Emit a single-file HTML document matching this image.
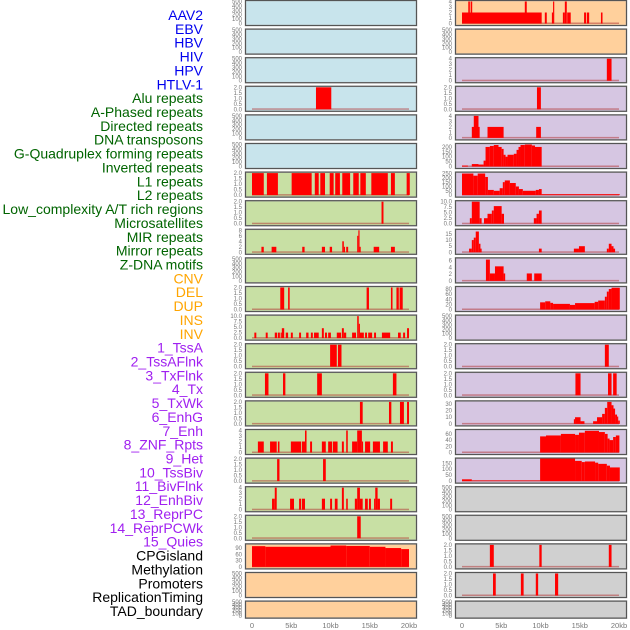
<!DOCTYPE html>
<html><head><meta charset="utf-8"><style>
body{margin:0;background:#fff;width:630px;height:630px;overflow:hidden}
svg{display:block}
.lab{font-family:"Liberation Sans",sans-serif;font-size:14px}
.tk{font-family:"Liberation Sans",sans-serif;font-size:6px;fill:#777}
.xt{font-family:"Liberation Sans",sans-serif;font-size:7.5px;fill:#777}
</style></head><body>
<svg id="c" width="630" height="630" xmlns="http://www.w3.org/2000/svg"></svg>
<script>
// ---- track labels ----
const trackLabels=["AAV2","EBV","HBV","HIV","HPV","HTLV-1","Alu repeats","A-Phased repeats","Directed repeats","DNA transposons","G-Quadruplex forming repeats","Inverted repeats","L1 repeats","L2 repeats","Low_complexity A/T rich regions","Microsatellites","MIR repeats","Mirror repeats","Z-DNA motifs","CNV","DEL","DUP","INS","INV","1_TssA","2_TssAFlnk","3_TxFlnk","4_Tx","5_TxWk","6_EnhG","7_Enh","8_ZNF_Rpts","9_Het","10_TssBiv","11_BivFlnk","12_EnhBiv","13_ReprPC","14_ReprPCWk","15_Quies","CPGisland","Methylation","Promoters","ReplicationTiming","TAD_boundary"];
const labelGroups=[6,13,5,15,5];
const groupColors=["#0000ee","#006400","#ffa500","#a020f0","#000000"];
// ---- x axis ticks (kb) ----
const xTicks=[0,5,10,15,20];
const xTickLabels=["0","5kb","10kb","15kb","20kb"];
// ---- panel data: [startKb,endKb,value] ----
const L03=[[8.15,10.1,2]];
const L06=[[0,1.5,2],[1.9,3.3,2],[5.05,7.6,2],[8.0,8.5,2],[8.7,9.3,2],[9.9,10.4,2],[10.6,11.2,2],[11.5,12.5,2],[12.9,13.6,2],[13.8,14.5,2],[15.2,17.3,2],[17.7,18.2,2],[19.7,20.1,2]];
const L07=[[16.5,16.75,2]];
const L08=[[1.2,1.5,2],[2.5,3.1,2],[6.4,6.7,2],[8.9,9.3,2],[9.9,10.2,2],[11.5,11.7,4],[11.7,11.85,2],[12.0,12.25,2],[13.4,13.55,6],[13.55,13.7,8],[13.7,13.85,2],[15.5,16.2,2],[17.7,18.2,2]];
const L10=[[3.6,4.1,2],[4.6,4.8,2],[14.6,14.9,2],[17.7,17.9,2],[18.4,18.7,2],[18.8,19.2,2]];
const L11=[[0.3,0.55,2.5],[1.75,2.0,2.5],[2.9,3.2,2.5],[3.3,3.55,2.5],[3.65,3.8,2.5],[3.8,4.1,4.5],[4.3,4.6,2.5],[4.95,5.2,2.5],[6.0,6.25,2.5],[6.9,7.2,2.5],[7.5,7.75,2.5],[7.9,8.5,2.5],[8.9,9.15,4.5],[9.3,9.55,2.5],[9.7,10.05,2.5],[10.8,11.35,2.5],[11.45,11.7,4.5],[11.7,12.0,2.5],[12.75,13.25,2.5],[13.4,13.6,10],[13.6,13.75,6.5],[13.75,14.25,2.5],[14.4,14.65,2.5],[14.8,15.3,2.5],[15.55,15.8,2.5],[16.55,17.6,2.5],[18.6,18.95,2.5],[19.25,19.5,2.5],[19.75,20.0,4.5]];
const L12=[[9.95,10.8,2],[10.95,11.4,2]];
const L13=[[1.65,2.1,2],[3.95,4.25,2],[8.3,8.9,2],[17.95,18.4,2]];
const L14=[[13.75,14.1,2],[17.45,17.75,2],[18.85,19.35,2],[19.75,20.0,2]];
const L15=[[0.75,1.5,2],[2.3,3.15,2],[3.3,3.5,2],[4.95,6.25,2],[6.35,6.75,2],[6.75,6.95,4],[7.4,7.65,2],[8.9,9.4,2],[9.7,10.2,2],[10.3,10.9,2],[11.45,11.7,2],[12.0,12.2,4],[12.75,13.4,2],[13.4,14.0,4],[14.0,14.15,2],[14.4,15.05,2],[15.4,16.3,2],[16.7,17.3,2],[17.7,17.95,2]];
const L16=[[3.2,3.5,2],[9.05,9.4,2]];
const L17=[[2.55,2.9,2],[2.9,3.15,4],[4.85,5.35,2],[6.0,6.25,2],[6.35,6.75,2],[8.9,9.3,2],[9.95,10.2,2],[10.55,10.9,2],[11.45,11.7,4],[12.0,12.2,2],[13.1,13.4,2],[13.4,13.75,4],[13.75,14.1,2],[14.4,14.75,2],[14.9,15.15,2],[15.55,15.7,2],[15.7,16.0,4],[16.0,16.3,2],[17.6,17.85,2]];
const L18=[[13.4,13.85,2]];
const L19=[[0,1.7,99],[1.7,10,96],[10,12,102],[12,15,100],[15,17,96],[17,19,90],[19,20,85]];
const R00=[[0,10.15,2],[0.8,1.0,4],[1.1,1.3,4],[8.0,8.25,4],[10.55,10.8,2],[11.45,11.6,2],[11.6,11.75,4],[12.85,13.1,2],[13.1,13.35,4],[13.4,13.85,2],[15.55,15.8,2],[15.9,16.2,2],[17.7,17.9,2]];
const R02=[[18.45,19.05,4]];
const R03=[[9.55,10.05,2]];
const R04=[[1.25,2.25,2],[1.5,2.1,4],[3.25,5.3,2],[9.45,10.05,2]];
const R05=[[0,0.75,10],[1.25,2.1,25],[2.1,2.75,20],[2.75,3.0,60],[3.0,3.55,200],[3.55,4.05,210],[4.05,4.65,220],[4.65,5.05,200],[5.05,5.3,180],[5.3,5.55,120],[5.55,5.8,100],[5.8,6.6,120],[6.6,6.95,130],[6.95,7.2,170],[7.2,7.45,200],[7.45,8.0,220],[8.0,8.9,225],[8.9,9.3,215],[9.3,10.15,200]];
const R06=[[0,1.45,250],[1.45,2.0,225],[2.0,2.95,250],[2.95,3.3,210],[3.3,4.05,60],[4.05,4.8,50],[4.8,5.2,80],[5.2,5.45,150],[5.45,6.1,170],[6.1,6.85,140],[6.85,7.25,100],[7.25,7.75,70],[7.75,9.4,50],[9.4,9.8,60],[9.8,10.15,70],[10.15,20.1,10]];
const R07=[[1.0,1.25,2.5],[1.25,2.25,10],[2.25,2.5,2.5],[2.8,3.25,2.5],[3.25,3.8,4.5],[3.8,4.05,6],[4.05,5.05,8],[5.05,5.35,4.5],[9.15,9.5,2.5],[9.5,9.8,4.5],[9.8,10.15,6]];
const R08=[[0.9,1.25,3],[1.25,1.5,10],[1.5,1.75,12],[1.75,2.15,17],[2.15,2.35,7],[2.35,2.5,3],[9.8,10.15,3],[14.25,14.9,3],[14.9,15.65,5],[18.45,18.7,3],[18.7,19.05,7],[19.05,19.3,5],[19.3,19.5,3]];
const R09=[[3.05,3.55,6.3],[3.55,4.2,2.2],[4.2,5.3,4.3],[5.3,5.5,2.2],[8.25,8.9,2.2],[9.2,10.15,2.2]];
const R10=[[9.95,10.6,28],[10.6,11.25,32],[11.25,11.6,26],[11.6,13.75,22],[13.75,14.4,18],[14.4,16.9,25],[16.9,17.35,30],[17.35,18.2,35],[18.2,18.45,50],[18.45,18.7,70],[18.7,19.05,80],[19.05,20.1,85]];
const R12=[[18.2,18.7,2]];
const R13=[[14.45,15.1,2],[18.6,19.05,2],[19.25,19.7,2]];
const R14=[[14.25,14.4,7],[14.4,15.1,10],[15.1,15.6,4],[16.7,17.2,4],[17.2,17.85,10],[17.85,18.2,15],[18.2,18.5,24],[18.5,19.05,33],[19.05,19.3,28],[19.3,19.5,23],[19.5,19.75,14],[19.75,19.9,11],[19.9,20.1,5]];
const R15=[[9.95,10.7,52],[10.7,12.6,55],[12.6,14.4,60],[14.4,14.9,57],[14.9,15.65,64],[15.65,17.45,70],[17.45,18.2,66],[18.2,18.55,60],[18.55,18.8,45],[18.8,19.25,40],[19.25,19.6,50],[19.6,20.05,55]];
const R16=[[0,1.25,15],[1.25,9.95,5],[9.95,14.4,190],[14.4,15.25,170],[15.25,15.65,160],[15.65,16.95,165],[16.95,17.35,155],[17.35,18.45,145],[18.45,18.85,130],[18.85,20.1,115]];
const R19=[[3.55,4.05,2],[9.85,10.15,2],[18.7,19.05,2]];
const R20=[[3.95,4.3,2],[7.5,7.85,2],[9.4,9.7,2],[11.85,12.25,2]];
// ---- tick sets ----
const T500=[0,100,200,300,400,500], T2=[0,0.5,1,1.5,2], T4=[0,1,2,3,4], T8=[0,2,4,6,8], T10=[0,2.5,5,7.5,10];
const T90=[0,30,60,90], T200=[0,50,100,150,200], T250=[0,50,100,150,200,250], T15=[0,5,10,15], T6=[0,2,4,6], T80=[0,20,40,60,80], T30=[0,10,20,30], T60=[0,20,40,60], T150=[0,50,100,150];

const BLUE="#c8e4ec",GREEN="#c8e0a4",ORANGE="#ffd09c",PURPLE="#d6c6e2",GREY="#d0d0d0";
// col, row, bg, data, ymax, ticks, decimals
const panels=[
[0,0,BLUE,null,500,T500,0],[0,1,BLUE,null,500,T500,0],[0,2,BLUE,null,500,T500,0],[0,3,BLUE,L03,2,T2,1],[0,4,BLUE,null,500,T500,0],[0,5,BLUE,null,500,T500,0],
[0,6,GREEN,L06,2,T2,1],[0,7,GREEN,L07,2,T2,1],[0,8,GREEN,L08,8,T8,0],[0,9,GREEN,null,500,T500,0],[0,10,GREEN,L10,2,T2,1],[0,11,GREEN,L11,10,T10,1],
[0,12,GREEN,L12,2,T2,1],[0,13,GREEN,L13,2,T2,1],[0,14,GREEN,L14,2,T2,1],[0,15,GREEN,L15,4,T4,0],[0,16,GREEN,L16,2,T2,1],[0,17,GREEN,L17,4,T4,0],[0,18,GREEN,L18,2,T2,1],
[0,19,ORANGE,L19,105,T90,0],[0,20,ORANGE,null,500,T500,0],[0,21,ORANGE,null,500,T500,0],
[1,0,ORANGE,R00,4,T4,0],[1,1,ORANGE,null,500,T500,0],[1,2,PURPLE,R02,4,T4,0],[1,3,PURPLE,R03,2,T2,1],[1,4,PURPLE,R04,4,T4,0],[1,5,PURPLE,R05,225,T200,0],
[1,6,PURPLE,R06,255,T250,0],[1,7,PURPLE,R07,10,T10,1],[1,8,PURPLE,R08,18,T15,0],[1,9,PURPLE,R09,6.5,T6,0],[1,10,PURPLE,R10,86,T80,0],[1,11,PURPLE,null,500,T500,0],
[1,12,PURPLE,R12,2,T2,1],[1,13,PURPLE,R13,2,T2,1],[1,14,PURPLE,R14,33,T30,0],[1,15,PURPLE,R15,71,T60,0],[1,16,PURPLE,R16,185,T150,0],
[1,17,GREY,null,500,T500,0],[1,18,GREY,null,500,T500,0],[1,19,GREY,R19,2,T2,1],[1,20,GREY,R20,2,T2,1],[1,21,GREY,null,500,T500,0]
];
const NS="http://www.w3.org/2000/svg";
const svg=document.getElementById('c');
function mk(tag,attrs,parent){const e=document.createElementNS(NS,tag);for(const k in attrs)e.setAttribute(k,attrs[k]);(parent||svg).appendChild(e);return e;}
const colX=[245,455], colZero=[252,462], pxPerKb=7.85, panelW=171;
function xs(col,kb){return colZero[col]+kb*pxPerKb;}
// labels
let li=0;
labelGroups.forEach((n,g)=>{for(let k=0;k<n;k++){const t=mk('text',{x:203,y:15+li*13.86+5,'text-anchor':'end',class:'lab',fill:groupColors[g]});t.textContent=trackLabels[li];


li++;}});
panels.forEach(p=>{
  const [col,row,bg,data,ymax,ticks,dec]=p;
  const top=row*28.6, h=row===21?17:25, x0=colX[col];
  const g=mk('g',{});
  
  
  mk('rect',{x:x0+0.5,y:top+0.5,width:panelW,height:h,fill:bg,stroke:'#999','stroke-width':1.5},g);
  const y0=top+h-1.5, y1=top+1.5;
  const ys=v=>y0-(v/ymax)*(y0-y1);
  ticks.forEach(t=>{const tx=mk('text',{x:x0-3,y:ys(t)+2,'text-anchor':'end',class:'tk'},g);tx.textContent=t.toFixed(dec);
    
    });
  if(data){
    mk('rect',{x:xs(col,0),y:y0-1,width:20*pxPerKb,height:1.5,fill:'#b03030',opacity:0.5},g);
    data.forEach(d=>{const r=mk('rect',{x:xs(col,d[0]),y:ys(d[2]),width:Math.max(1,(d[1]-d[0])*pxPerKb),height:y0-ys(d[2]),fill:'#ff0000'},g);
      
      });
  }
  mk('rect',{x:x0+0.5,y:top+0.5,width:panelW,height:h,fill:'none',stroke:'#555','stroke-width':1},g);
});
[0,1].forEach(col=>{xTicks.forEach((t,i)=>{const tx=mk('text',{x:xs(col,t),y:628,'text-anchor':'middle',class:'xt'});tx.textContent=xTickLabels[i];
  
  });});
</script>
</body></html>
